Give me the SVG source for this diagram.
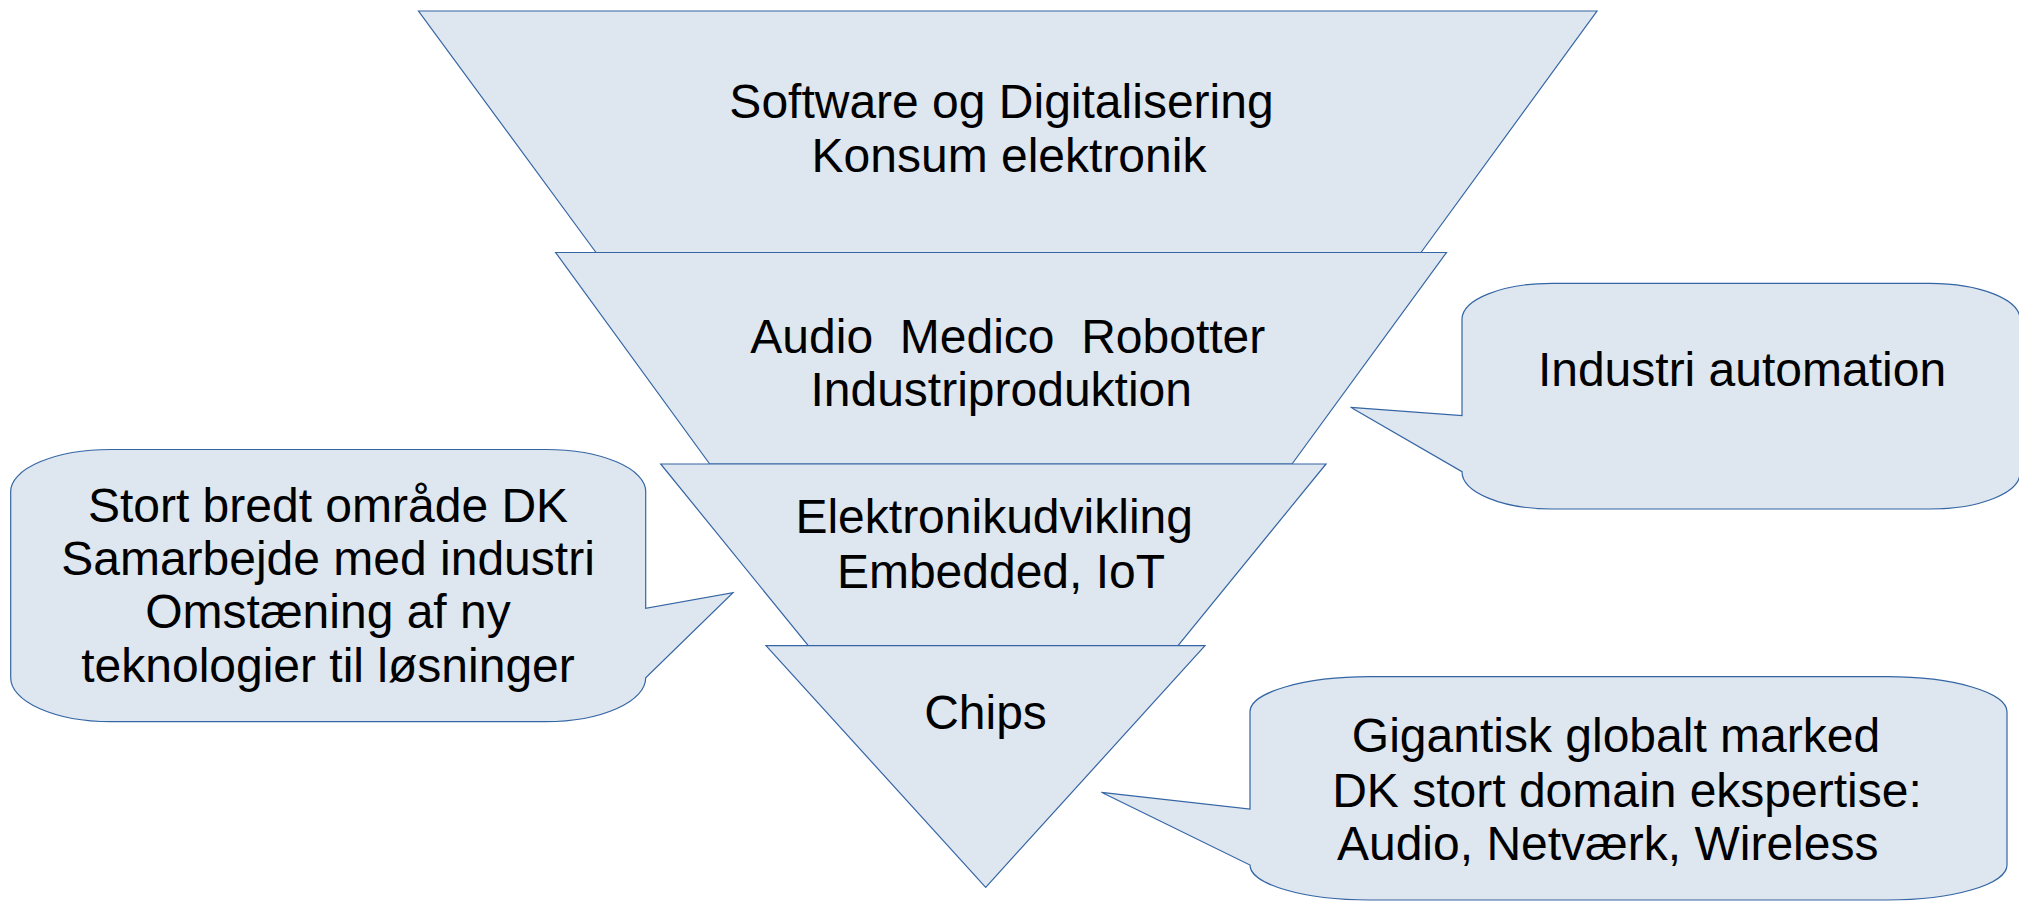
<svg xmlns="http://www.w3.org/2000/svg" width="2019" height="901" viewBox="0 0 2019 901">
<style>
.shape{fill:#dee6ef;stroke:#3465a4;stroke-width:1.2;stroke-linejoin:miter}
.t{font-family:"Liberation Sans",Arial,sans-serif;font-size:48px;fill:#000;text-anchor:middle}
</style>
<rect x="0" y="0" width="2019" height="901" fill="#ffffff"/>
<g id="level1">
<polygon class="shape" points="418.5,11 1597,11 1421,252.5 596,252.5"/>
<text class="t" x="1001.5" y="118.3">Software og Digitalisering</text>
<text class="t" x="1009" y="171.7">Konsum elektronik</text>
</g>
<g id="level2">
<polygon class="shape" points="555.6,252.5 1446.5,252.5 1292,464 709.7,464"/>
<text class="t" x="1007.8" y="352.7" xml:space="preserve">Audio  Medico  Robotter</text>
<text class="t" x="1001.2" y="406">Industriproduktion</text>
</g>
<g id="level3">
<polygon class="shape" points="660.7,464 1326,464 1178,645.7 808.3,645.7"/>
<text class="t" x="994.2" y="533.3">Elektronikudvikling</text>
<text class="t" x="1001" y="588.3">Embedded, IoT</text>
</g>
<g id="level4">
<polygon class="shape" points="766,645.7 1205,645.7 985.7,887.3"/>
<text class="t" x="985.5" y="729.3">Chips</text>
</g>
<g id="callout-industri">
<path class="shape" d="M1552,283.3 H1930 A90 36 0 0 1 2020,319.3 V473 A90 36 0 0 1 1930,509 H1552 A90 37.3 0 0 1 1462,471.7 L1350.6,407.3 L1462,415.7 V319.3 A90 36 0 0 1 1552,283.3 Z"/>
<text class="t" x="1742" y="386">Industri automation</text>
</g>
<g id="callout-dk">
<path class="shape" d="M110.7,449.5 H545.7 A100 42 0 0 1 645.7,491.5 V608.3 L733,592.7 L645.7,677.7 A100 44 0 0 1 545.7,721.7 H110.7 A100 44 0 0 1 10.7,677.7 V491.5 A100 42 0 0 1 110.7,449.5 Z"/>
<text class="t" x="328" y="521.7">Stort bredt område DK</text>
<text class="t" x="328" y="575">Samarbejde med industri</text>
<text class="t" x="328" y="628.3">Omstæning af ny</text>
<text class="t" x="328" y="681.7">teknologier til løsninger</text>
</g>
<g id="callout-chips">
<path class="shape" d="M1370,676.7 H1887 A120 35 0 0 1 2007,711.7 V865 A120 35 0 0 1 1887,900 H1370 A120 35 0 0 1 1250,865 L1101.4,792.3 L1250,809 V711.7 A120 35 0 0 1 1370,676.7 Z"/>
<text class="t" x="1616" y="751.7">Gigantisk globalt marked</text>
<text class="t" x="1627" y="806.7">DK stort domain ekspertise:</text>
<text class="t" x="1607.7" y="860">Audio, Netværk, Wireless</text>
</g>
<g id="connectors"></g>
</svg>
